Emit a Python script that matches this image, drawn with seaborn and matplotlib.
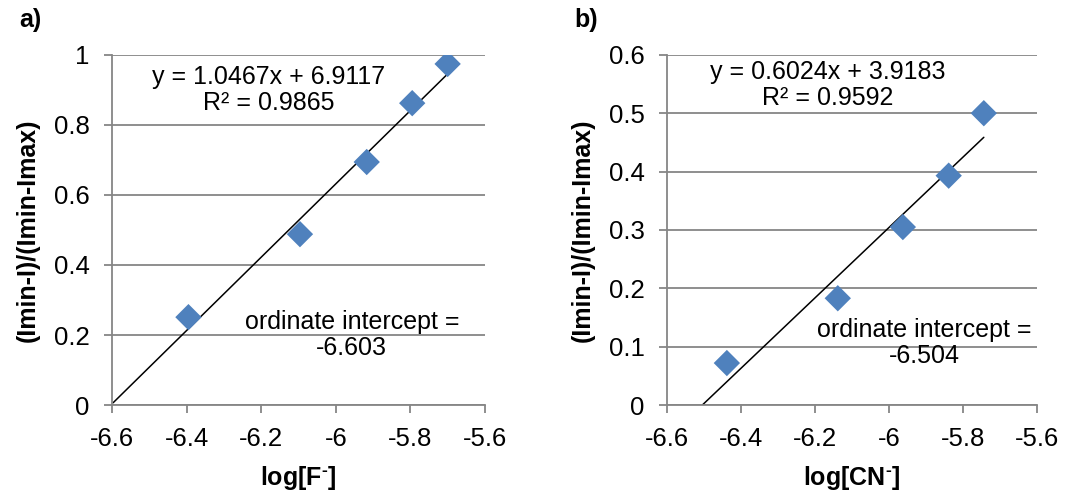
import numpy as np
import pandas as pd
import matplotlib
matplotlib.use("Agg")
import matplotlib.pyplot as plt
import seaborn as sns

# data
f_log = [-6.395, -6.096, -5.917, -5.795, -5.700]
f_ratio = [0.251, 0.488, 0.694, 0.862, 0.974]
f_slope, f_icept = 1.0467, 6.9117
f_line_x = [-6.597, -5.700]

cn_log = [-6.438, -6.138, -5.962, -5.838, -5.743]
cn_ratio = [0.072, 0.183, 0.305, 0.393, 0.500]
cn_slope, cn_icept = 0.6024, 3.9183
cn_line_x = [-6.504, -5.743]

sns.set_style("white")
plt.rcParams["font.family"] = ["Liberation Sans", "DejaVu Sans"]
plt.rcParams["mathtext.fontset"] = "custom"
plt.rcParams["mathtext.rm"] = "Liberation Sans:bold"
plt.rcParams["mathtext.bf"] = "Liberation Sans:bold"
plt.rcParams["text.color"] = "black"
plt.rcParams["axes.labelcolor"] = "black"
plt.rcParams["xtick.labelcolor"] = "black"
plt.rcParams["ytick.labelcolor"] = "black"

grey = "#868686"
blue = "#4F81BD"
fs = 18.5

fig = plt.figure(figsize=(10.81, 4.94), dpi=100)
ax1 = fig.add_axes([0.1036, 0.180, 0.345, 0.709])
ax2 = fig.add_axes([0.617, 0.180, 0.342, 0.709])

panels = [
    (ax1, f_log, f_ratio, f_slope, f_icept, f_line_x, (0, 1), 0.2,
     "log[F$^{\\text{-}}$]", "y = 1.0467x + 6.9117\nR² = 0.9865", (-6.181, 0.90),
     "ordinate intercept =\n-6.603", (-5.957, 0.20), "a)"),
    (ax2, cn_log, cn_ratio, cn_slope, cn_icept, cn_line_x, (0, 0.6), 0.1,
     "log[CN$^{\\text{-}}$]", "y = 0.6024x + 3.9183\nR² = 0.9592", (-6.165, 0.549),
     "ordinate intercept =\n-6.504", (-5.903, 0.106), "b)"),
]

for ax, xs, ys, m, b, lx, ylim, ystep, xlabel, eq, eqpos, note, notepos, tag in panels:
    df = pd.DataFrame({"x": xs, "y": ys})
    line = pd.DataFrame({"x": lx, "y": [m * v + b for v in lx]})
    sns.lineplot(x="x", y="y", data=line, color="black", linewidth=1.1, ax=ax, zorder=2)
    sns.scatterplot(x="x", y="y", data=df, marker="D", s=180, color=blue,
                    edgecolor="none", ax=ax, zorder=3)
    ax.set_xlim(-6.6, -5.6)
    ax.set_ylim(*ylim)
    ax.set_xticks(np.round(np.arange(-6.6, -5.59, 0.2), 1))
    ax.set_xticklabels(["-6.6", "-6.4", "-6.2", "-6", "-5.8", "-5.6"])
    yt = np.round(np.arange(ylim[0], ylim[1] + 1e-9, ystep), 1)
    ax.set_yticks(yt)
    ax.set_yticklabels([("%g" % v) for v in yt])
    ax.yaxis.grid(True, color=grey, linewidth=1.3)
    ax.set_axisbelow(True)
    for s in ["top", "right"]:
        ax.spines[s].set_visible(False)
    for s in ["left", "bottom"]:
        ax.spines[s].set_color(grey)
        ax.spines[s].set_linewidth(1.3)
    ax.tick_params(axis="both", direction="out", length=6, width=1.3, color=grey,
                   labelsize=fs, labelcolor="black", pad=10, bottom=True, left=True)
    ax.set_xlabel(xlabel, fontsize=18, fontweight="bold", labelpad=9)
    ax.set_ylabel("(Imin-I)/(Imin-Imax)", fontsize=18, fontweight="bold", labelpad=10)
    ax.text(eqpos[0], eqpos[1], eq, fontsize=18, ha="center", va="center",
            linespacing=1.1)
    ax.text(notepos[0], notepos[1], note, fontsize=18, ha="center", va="center",
            linespacing=1.1)
    ax.text(-0.25, 1.10, tag, transform=ax.transAxes, fontsize=18,
            fontweight="bold", ha="left", va="center")

fig.savefig("out.png", dpi=100)
